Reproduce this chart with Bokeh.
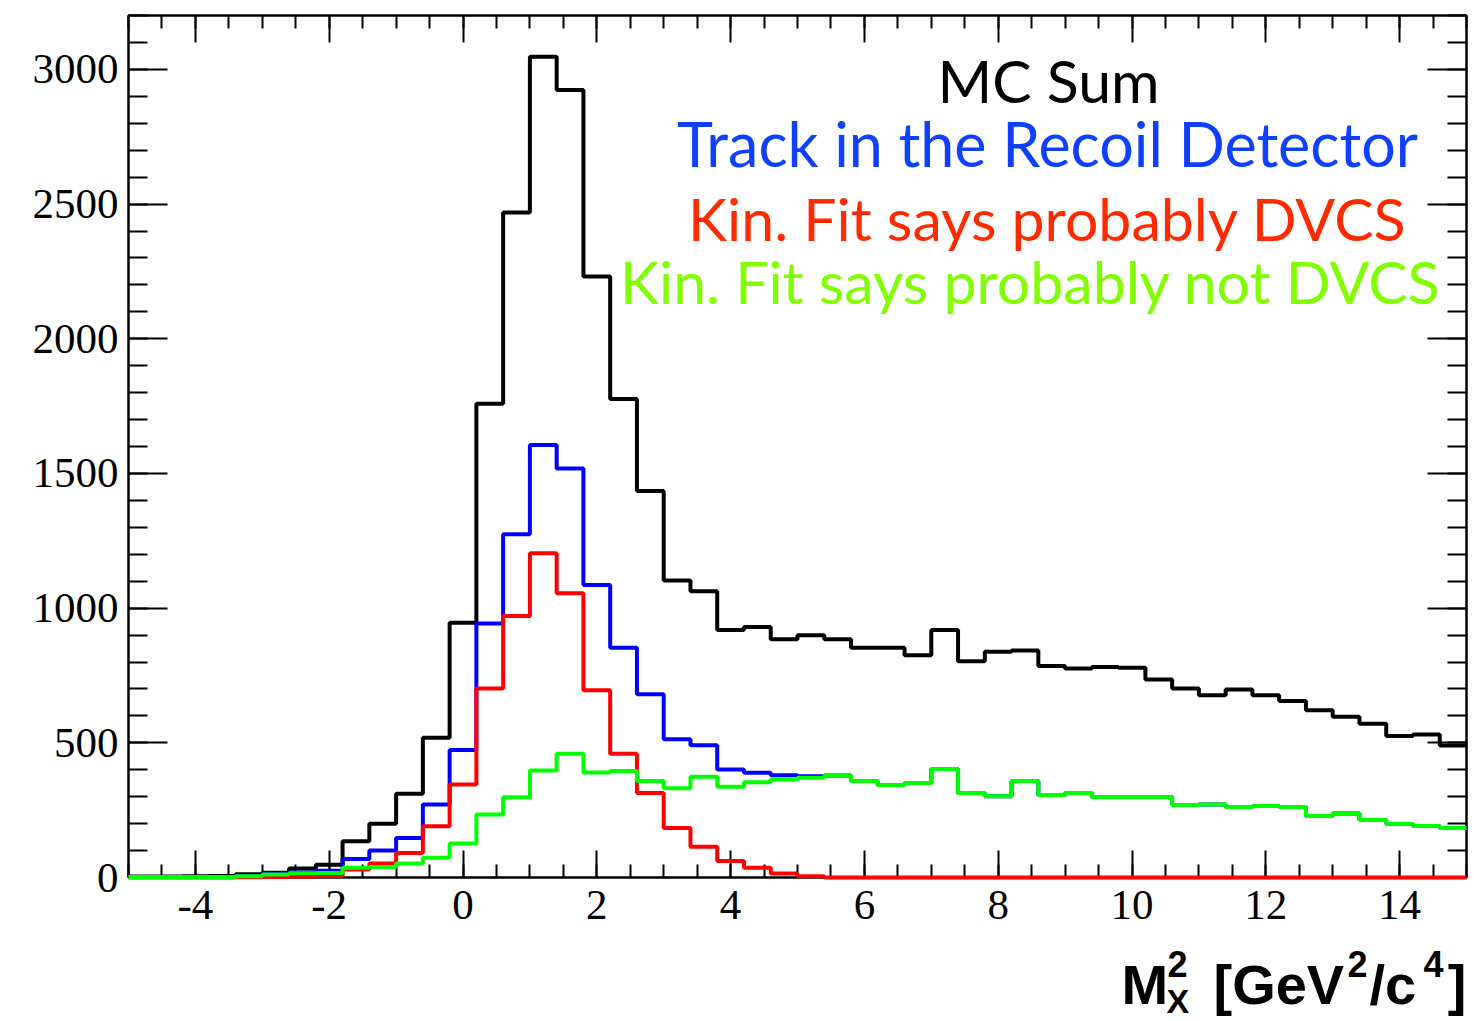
from bokeh.plotting import figure
from bokeh.layouts import column
from bokeh.models import (Range1d, LinearAxis, SingleIntervalTicker, Label,
                          CustomJSTickFormatter)
from bokeh.core.properties import value
from bokeh.embed import file_html
from bokeh.resources import INLINE

# ---------------- data (bin edges of M_X^2 histogram, GeV^2/c^4) ----------------
bin_edges = [-5.0, -4.6, -4.2, -3.8, -3.4, -3.0, -2.6, -2.2, -1.8, -1.4,
             -1.0, -0.6, -0.2, 0.2, 0.6, 1.0, 1.4, 1.8, 2.2, 2.6,
             3.0, 3.4, 3.8, 4.2, 4.6, 5.0, 5.4, 5.8, 6.2, 6.6,
             7.0, 7.4, 7.8, 8.2, 8.6, 9.0, 9.4, 9.8, 10.2, 10.6,
             11.0, 11.4, 11.8, 12.2, 12.6, 13.0, 13.4, 13.8, 14.2, 14.6, 15.0]

mc_sum = [4, 4, 5, 6, 12, 18, 33, 47, 135, 200,
          311, 519, 946, 1759, 2469, 3047, 2923, 2231, 1776, 1435,
          1103, 1063, 919, 930, 884, 899, 884, 853, 853, 825,
          919, 803, 838, 843, 785, 776, 781, 779, 735, 702,
          677, 698, 677, 655, 621, 597, 571, 525, 531, 490]

recoil_track = [2, 2, 2, 2, 6, 14, 19, 25, 69, 100,
                147, 271, 473, 943, 1274, 1606, 1518, 1086, 853, 680,
                513, 491, 401, 389, 380, 376, 379, 358, 343, 351,
                403, 314, 302, 358, 306, 314, 299, 299, 299, 269,
                271, 262, 265, 262, 228, 238, 213, 199, 191, 184]

kinfit_dvcs = [0, 0, 0, 0, 1, 2, 4, 6, 30, 52,
               91, 190, 345, 702, 971, 1204, 1055, 695, 459, 314,
               184, 114, 61, 36, 15, 5, 0, 0, 0, 0,
               0, 0, 0, 0, 0, 0, 0, 0, 0, 0,
               0, 0, 0, 0, 0, 0, 0, 0, 0, 0]

kinfit_not_dvcs = [2, 2, 2, 2, 5, 11, 16, 17, 36, 39,
                   52, 73, 126, 234, 298, 397, 459, 390, 395, 358,
                   331, 374, 337, 354, 364, 370, 379, 358, 343, 351,
                   403, 314, 302, 358, 306, 314, 299, 299, 299, 269,
                   271, 262, 265, 262, 228, 238, 213, 199, 191, 184]

series_names = ["MC Sum", "Track in the Recoil Detector",
                "Kin. Fit says probably DVCS", "Kin. Fit says probably not DVCS"]

# ---------------- main figure ----------------
X0, X1 = -5.0, 15.0
Y0, Y1 = 0.0, 3200.0
W = 1474
H_MAIN = 940
H_TITLE = 81
ML, MR, MT, MB = 128, 8, 15, H_MAIN - 877

p = figure(width=W, height=H_MAIN, x_range=Range1d(X0, X1), y_range=Range1d(Y0, Y1),
           output_backend="svg", toolbar_location=None,
           min_border_left=ML, min_border_right=MR, min_border_top=MT, min_border_bottom=MB)
p.background_fill_color = "white"
p.border_fill_color = "white"
p.xgrid.visible = False
p.ygrid.visible = False
p.outline_line_color = "black"
p.outline_line_width = 2

xt = SingleIntervalTicker(interval=2, num_minor_ticks=4)
yt = SingleIntervalTicker(interval=500, num_minor_ticks=5)

def style_axis(ax, horiz, labels):
    ax.ticker = xt if horiz else yt
    ax.axis_line_color = "black"
    ax.axis_line_width = 2
    ax.major_tick_line_width = 2
    ax.minor_tick_line_width = 2
    ax.major_tick_out = 0
    ax.minor_tick_out = 0
    ax.major_tick_in = 27 if horiz else 39
    ax.minor_tick_in = 13 if horiz else 19
    if labels:
        ax.formatter = CustomJSTickFormatter(code="return tick.toString();")
        ax.major_label_text_font = "Liberation Serif"
        ax.major_label_text_font_size = "43px"
        ax.major_label_text_color = "black"
        ax.major_label_standoff = 13 if horiz else 10
    else:
        ax.formatter = CustomJSTickFormatter(code="return '';")
        ax.major_label_standoff = 0

style_axis(p.xaxis[0], True, True)
style_axis(p.yaxis[0], False, True)
top_ax = LinearAxis()
right_ax = LinearAxis()
style_axis(top_ax, True, False)
style_axis(right_ax, False, False)
p.add_layout(top_ax, "above")
p.add_layout(right_ax, "right")

# ---------------- histograms ----------------
colors = ["black", "#0000ff", "#ff0000", "#00ff00"]
for vals, col in zip([mc_sum, recoil_track, kinfit_dvcs, kinfit_not_dvcs], colors):
    r = p.step(x=bin_edges, y=list(vals) + [vals[-1]], mode="after",
               line_color=col, line_width=4)
    r.level = "overlay"

# ---------------- pixel -> data helpers for text placement ----------------
FW = W - ML - MR
FH = H_MAIN - MT - MB
def dx(px):
    return X0 + (px - ML) / FW * (X1 - X0)
def dy(py):
    return Y1 - (py - MT) / FH * (Y1 - Y0)

text_colors = ["black", "#1040ff", "#ff2a00", "#80ff00"]
text_sizes = ["59px", "61px", "59px", "59px"]
text_pos = [(1048, 80), (1047, 143), (1047, 218), (1030, 281)]
for name, col, fs, (px, py) in zip(series_names, text_colors, text_sizes, text_pos):
    p.add_layout(Label(x=dx(px), y=dy(py), text=name, text_color=col,
                       text_font="Lato", text_font_size=fs,
                       text_align="center", text_baseline="alphabetic"))

# ---------------- x axis title strip:  M_X^2 [GeV^2/c^4] ----------------
# the strip's frame is aligned with the main frame, so x is given in page pixels
t = figure(width=W, height=H_TITLE, x_range=Range1d(ML, W - MR), y_range=Range1d(H_TITLE, 0),
           output_backend="svg", toolbar_location=None,
           x_axis_location=None, y_axis_location=None,
           min_border_left=ML, min_border_right=MR, min_border_top=0, min_border_bottom=0)
t.xgrid.visible = False
t.ygrid.visible = False
t.outline_line_color = None
t.background_fill_color = "white"
t.border_fill_color = "white"

big_y = 1005 - H_MAIN - 21
sup_y = 976 - H_MAIN - 13
sub_y = 1013 - H_MAIN - 13
big_parts = [("M", 1121, "left"), ("[GeV", 1213, "left"), ("/c", 1369, "left"), ("]", 1466, "right")]
small_parts = [("2", 1167, sup_y, "36px"), ("X", 1166, sub_y, "34px"),
               ("2", 1347, sup_y, "36px"), ("4", 1423, sup_y, "36px")]
for txt, px, al in big_parts:
    t.text(x=[px], y=[big_y], text=[txt], text_align=al, text_baseline="alphabetic",
           text_font=value("Liberation Sans"), text_font_style="bold",
           text_font_size="56px", text_color="black")
for txt, px, py, fs in small_parts:
    t.text(x=[px], y=[py], text=[txt], text_align="left", text_baseline="alphabetic",
           text_font=value("Liberation Sans"), text_font_style="bold",
           text_font_size=fs, text_color="black")

layout = column(p, t, spacing=0)
open("out.html", "w").write(file_html(layout, INLINE))
